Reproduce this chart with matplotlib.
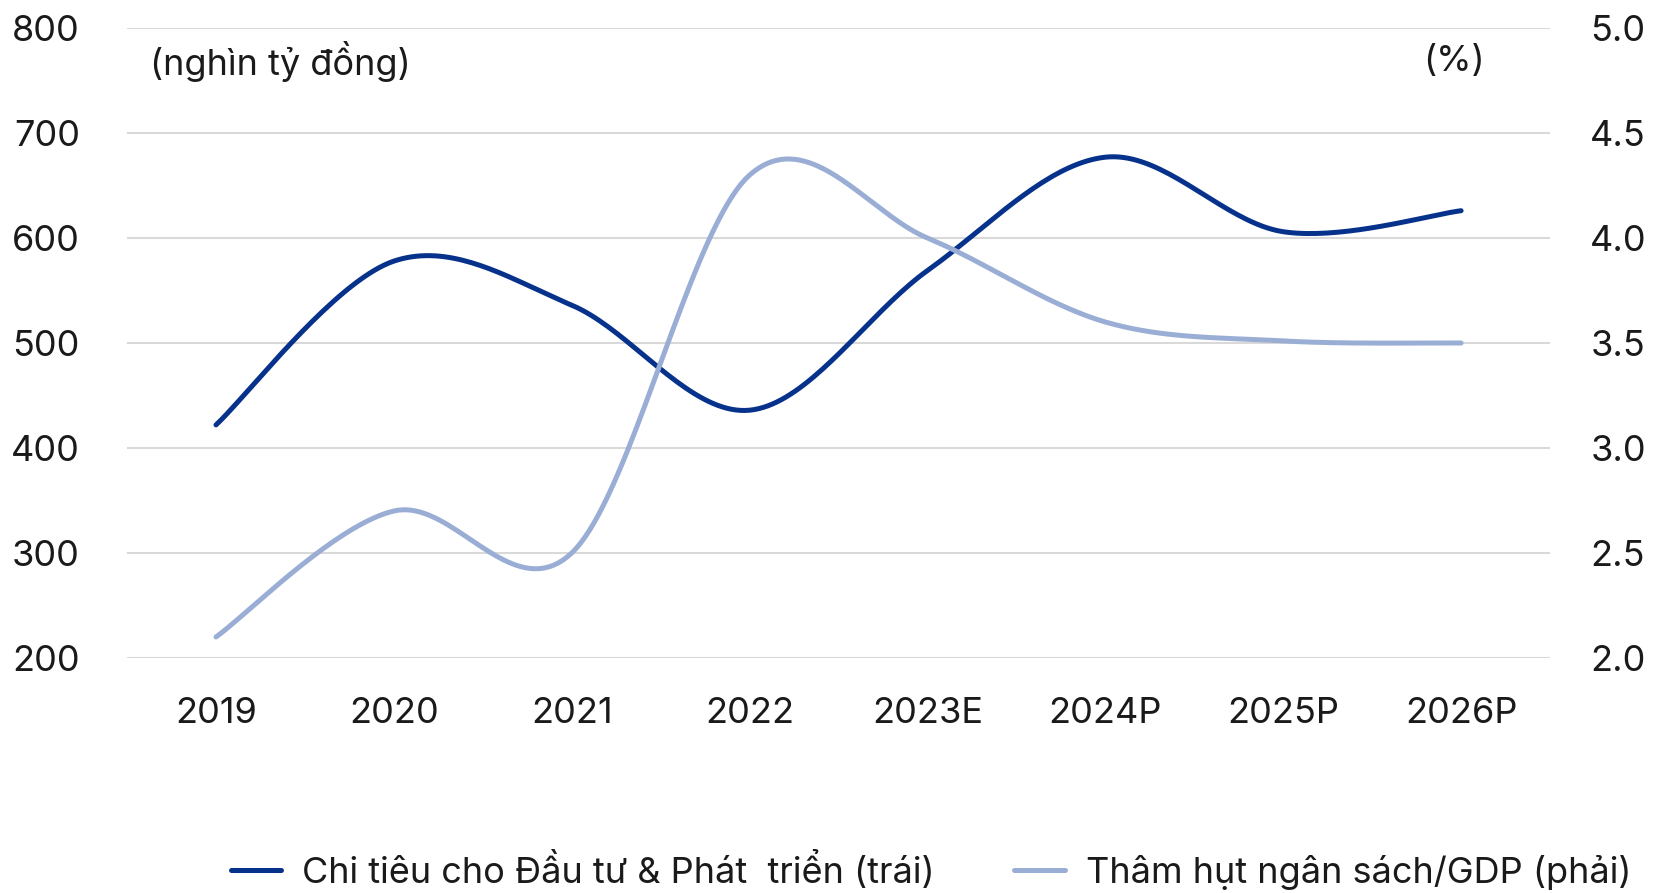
import matplotlib as mpl
import matplotlib.pyplot as plt
import numpy as np

mpl.rcParams['font.family'] = ['Inter', 'DejaVu Sans']

years = ['2019', '2020', '2021', '2022', '2023E', '2024P', '2025P', '2026P']
spending = [422, 578, 536, 436, 569, 677, 606, 626]      # nghin ty dong, left axis
deficit = [2.1, 2.7, 2.5, 4.3, 4.0, 3.6, 3.51, 3.5]     # % GDP, right axis

label_spend = 'Chi tiêu cho Đầu tư & Phát  triển (trái)'
label_def = 'Thâm hụt ngân sách/GDP (phải)'

dark = '#07328C'
light = '#9AAED5'
txt = '#1a1a1a'


def smooth(xs, ys, n=40):
    # excel-style smoothed line: bezier segments with catmull-rom control points
    pts = np.column_stack([np.asarray(xs, float), np.asarray(ys, float)])
    out = []
    for i in range(len(pts) - 1):
        p0 = pts[max(i - 1, 0)]
        p1 = pts[i]
        p2 = pts[i + 1]
        p3 = pts[min(i + 2, len(pts) - 1)]
        c1 = p1 + (p2 - p0) / 6
        c2 = p2 - (p3 - p1) / 6
        t = np.linspace(0, 1, n)[:, None]
        seg = (1 - t) ** 3 * p1 + 3 * (1 - t) ** 2 * t * c1 + 3 * (1 - t) * t ** 2 * c2 + t ** 3 * p2
        out.append(seg if i == 0 else seg[1:])
    out = np.vstack(out)
    return out[:, 0], out[:, 1]


x = np.arange(len(years))

fig = plt.figure(figsize=(16.61, 8.93), dpi=100)
ax = fig.add_axes([0.0765, 0.2632, 0.8567, 0.7054])
ax2 = ax.twinx()

ax.set_ylim(200, 800)
ax.set_yticks(np.arange(200, 801, 100))
ax2.set_ylim(2.0, 5.0)
rticks = np.arange(2.0, 5.01, 0.5)
ax2.set_yticks(rticks, [f'{v:.1f}' for v in rticks])
ax.set_xlim(-0.5, len(years) - 0.5)
ax.set_xticks(x, years)

ax.grid(axis='y', color='#D9D9D9', linewidth=1.5)
ax.set_axisbelow(True)
for a in (ax, ax2):
    for s in a.spines.values():
        s.set_visible(False)

ax.tick_params(axis='y', length=0, pad=34, labelsize=26, labelcolor=txt)
ax.tick_params(axis='x', length=0, pad=28, labelsize=26, labelcolor=txt)
ax2.tick_params(axis='y', length=0, pad=29, labelsize=26, labelcolor=txt)

sx, sy = smooth(x, spending)
dx, dy = smooth(x, deficit)
l1, = ax.plot(sx, sy, color=dark, linewidth=3.6, solid_capstyle='round', label=label_spend)
l2, = ax2.plot(dx, dy, color=light, linewidth=3.6, solid_capstyle='round', label=label_def)

fig.text(150 / 1661, 1 - 62 / 893, '(nghìn tỷ đồng)', fontsize=26, va='center', ha='left', color=txt)
fig.text(1485 / 1661, 1 - 62 / 893, '(%)', fontsize=26, va='center', ha='right', color=txt)

fig.legend(handles=[l1, l2], loc='center', bbox_to_anchor=(931 / 1661, 1 - 870 / 893),
           ncol=2, frameon=False, fontsize=26, handlelength=1.4, handletextpad=0.58,
           columnspacing=2.2, labelcolor=txt)

plt.savefig('out.png', dpi=100)
